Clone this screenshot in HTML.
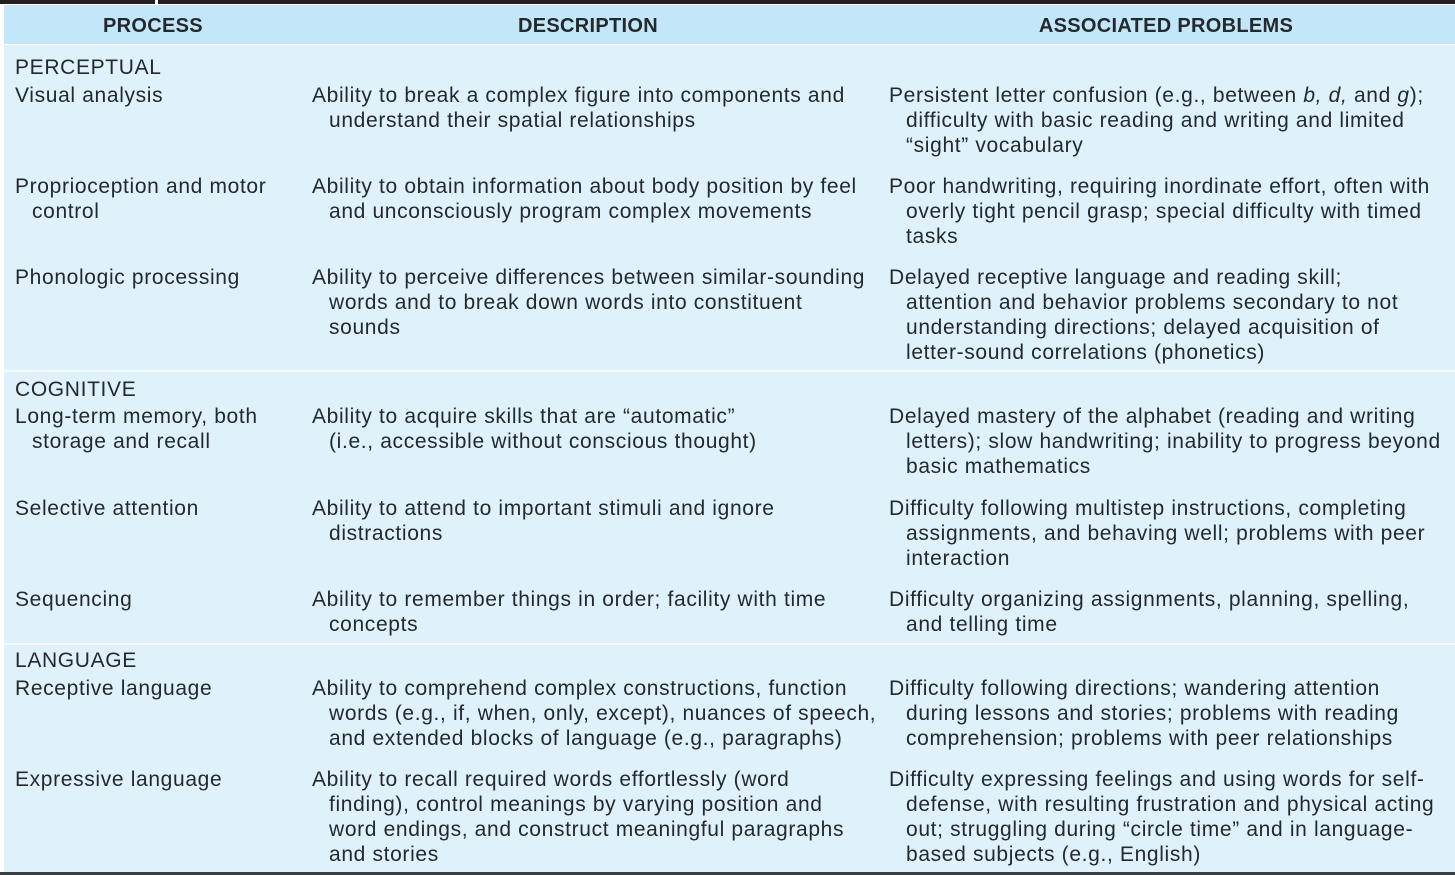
<!DOCTYPE html>
<html><head><meta charset="utf-8"><style>
html,body{margin:0;padding:0;}
body{width:1455px;height:875px;position:relative;background:#fff;overflow:hidden;font-family:"Liberation Sans",sans-serif;color:#23292e;}
.bar{position:absolute;top:0;height:4px;background:#231f20;}
.hdr{position:absolute;left:4px;top:5px;width:1451px;height:39px;background:#c3e6f8;}
.body{position:absolute;left:4px;top:45px;width:1451px;height:827px;background:#dff2fb;}
.sep{position:absolute;left:4px;width:1451px;height:2px;background:#f4fafd;}
.h{position:absolute;top:14px;font-weight:bold;font-size:20px;line-height:25px;transform:translateX(-50%);white-space:nowrap;letter-spacing:0.3px;}
.t{position:absolute;font-size:21px;line-height:25px;white-space:nowrap;letter-spacing:0.65px;margin-top:1px;}
.t div+div{margin-left:17px;}
</style></head><body>
<div class="bar" style="left:0;width:155px"></div>
<div class="bar" style="left:158px;width:1297px"></div>
<div class="hdr"></div>
<div class="body"></div>
<div class="sep" style="top:370px"></div>
<div class="sep" style="top:643px"></div>
<div style="position:absolute;left:0;top:872px;width:1455px;height:3px;background:#3a3f44"></div>

<div class="h" style="left:153px">PROCESS</div>
<div class="h" style="left:588px">DESCRIPTION</div>
<div class="h" style="left:1166px">ASSOCIATED PROBLEMS</div>

<div class="t" style="left:15px;top:54px"><div>PERCEPTUAL</div></div>
<div class="t" style="left:15px;top:82px"><div>Visual analysis</div></div>
<div class="t" style="left:312px;top:82px"><div>Ability to break a complex figure into components and</div><div>understand their spatial relationships</div></div>
<div class="t" style="left:889px;top:82px"><div>Persistent letter confusion (e.g., between <i>b, d,</i> and <i>g</i>);</div><div>difficulty with basic reading and writing and limited</div><div>“sight” vocabulary</div></div>

<div class="t" style="left:15px;top:173px"><div>Proprioception and motor</div><div>control</div></div>
<div class="t" style="left:312px;top:173px"><div>Ability to obtain information about body position by feel</div><div>and unconsciously program complex movements</div></div>
<div class="t" style="left:889px;top:173px"><div>Poor handwriting, requiring inordinate effort, often with</div><div>overly tight pencil grasp; special difficulty with timed</div><div>tasks</div></div>

<div class="t" style="left:15px;top:264px"><div>Phonologic processing</div></div>
<div class="t" style="left:312px;top:264px"><div>Ability to perceive differences between similar-sounding</div><div>words and to break down words into constituent</div><div>sounds</div></div>
<div class="t" style="left:889px;top:264px"><div>Delayed receptive language and reading skill;</div><div>attention and behavior problems secondary to not</div><div>understanding directions; delayed acquisition of</div><div>letter-sound correlations (phonetics)</div></div>

<div class="t" style="left:15px;top:376px"><div>COGNITIVE</div></div>
<div class="t" style="left:15px;top:403px"><div>Long-term memory, both</div><div>storage and recall</div></div>
<div class="t" style="left:312px;top:403px"><div>Ability to acquire skills that are “automatic”</div><div>(i.e., accessible without conscious thought)</div></div>
<div class="t" style="left:889px;top:403px"><div>Delayed mastery of the alphabet (reading and writing</div><div>letters); slow handwriting; inability to progress beyond</div><div>basic mathematics</div></div>

<div class="t" style="left:15px;top:495px"><div>Selective attention</div></div>
<div class="t" style="left:312px;top:495px"><div>Ability to attend to important stimuli and ignore</div><div>distractions</div></div>
<div class="t" style="left:889px;top:495px"><div>Difficulty following multistep instructions, completing</div><div>assignments, and behaving well; problems with peer</div><div>interaction</div></div>

<div class="t" style="left:15px;top:586px"><div>Sequencing</div></div>
<div class="t" style="left:312px;top:586px"><div>Ability to remember things in order; facility with time</div><div>concepts</div></div>
<div class="t" style="left:889px;top:586px"><div>Difficulty organizing assignments, planning, spelling,</div><div>and telling time</div></div>

<div class="t" style="left:15px;top:647px"><div>LANGUAGE</div></div>
<div class="t" style="left:15px;top:675px"><div>Receptive language</div></div>
<div class="t" style="left:312px;top:675px"><div>Ability to comprehend complex constructions, function</div><div>words (e.g., if, when, only, except), nuances of speech,</div><div>and extended blocks of language (e.g., paragraphs)</div></div>
<div class="t" style="left:889px;top:675px"><div>Difficulty following directions; wandering attention</div><div>during lessons and stories; problems with reading</div><div>comprehension; problems with peer relationships</div></div>

<div class="t" style="left:15px;top:766px"><div>Expressive language</div></div>
<div class="t" style="left:312px;top:766px"><div>Ability to recall required words effortlessly (word</div><div>finding), control meanings by varying position and</div><div>word endings, and construct meaningful paragraphs</div><div>and stories</div></div>
<div class="t" style="left:889px;top:766px"><div>Difficulty expressing feelings and using words for self-</div><div>defense, with resulting frustration and physical acting</div><div>out; struggling during “circle time” and in language-</div><div>based subjects (e.g., English)</div></div>
</body></html>
